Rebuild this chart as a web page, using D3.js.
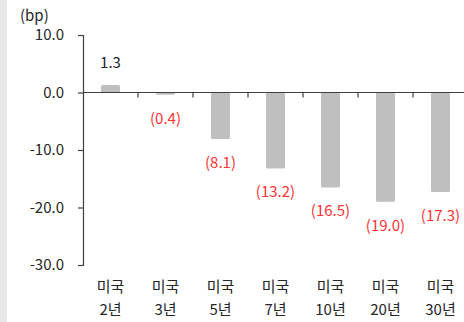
<!DOCTYPE html>
<html>
<head>
<meta charset="utf-8">
<script src="https://cdn.jsdelivr.net/npm/d3@7"></script>
<style>
  html, body { margin: 0; padding: 0; background: #fff; }
  svg { display: block; }
  text { font-family: "Noto Sans CJK KR", "Noto Sans", sans-serif; }
</style>
</head>
<body>
<svg id="chart" width="464" height="322"></svg>
<script>
// US Treasury yield change by maturity (bp)
const categories = ["미국\n2년", "미국\n3년", "미국\n5년", "미국\n7년", "미국\n10년", "미국\n20년", "미국\n30년"];
const values = [1.3, -0.4, -8.1, -13.2, -16.5, -19.0, -17.3];
const yTicks = [10, 0, -10, -20, -30];

const svg = d3.select("#chart");
const W = 464, H = 322;
const fs = 15;

// left-side grey strip
svg.append("rect").attr("x", 0).attr("y", 0).attr("width", 7).attr("height", H).attr("fill", "#e8e8e8");

const x0 = 83, bandW = 55;
const x = d3.scaleBand().domain(categories).range([x0, x0 + bandW * categories.length]).paddingInner(0).paddingOuter(0);
const y = d3.scaleLinear().domain([-30, 10]).range([265, 35]);

const axisColor = "#404040";
const textColor = "#262626";

// bars
const barW = 19;
svg.append("g").selectAll("rect").data(values).join("rect")
  .attr("x", (d, i) => x(categories[i]) + x.bandwidth() / 2 - barW / 2)
  .attr("y", d => Math.min(y(d), y(0)))
  .attr("width", barW)
  .attr("height", d => Math.abs(y(d) - y(0)))
  .attr("rx", 1.5)
  .attr("fill", "#bfbfbf");

// y axis
const yAxis = svg.append("g").attr("transform", `translate(${x0},0)`)
  .call(d3.axisLeft(y).tickValues(yTicks).tickFormat(d => d.toFixed(1)).tickSize(5).tickPadding(14));
yAxis.select(".domain").attr("stroke", axisColor).attr("stroke-width", 1.2);
yAxis.selectAll(".tick line").attr("stroke", axisColor).attr("stroke-width", 1.2);
yAxis.selectAll(".tick text").attr("fill", textColor).attr("font-size", fs)
  .attr("font-family", "'Noto Sans CJK KR', sans-serif");

// x axis at zero
const xAxisG = svg.append("g").attr("transform", `translate(0,${y(0)})`);
xAxisG.append("line").attr("x1", x0).attr("x2", W).attr("stroke", axisColor).attr("stroke-width", 1.2);
xAxisG.selectAll("line.tk").data(categories.slice(1)).join("line").attr("class", "tk")
  .attr("x1", d => x(d)).attr("x2", d => x(d)).attr("y1", 0).attr("y2", 5)
  .attr("stroke", axisColor).attr("stroke-width", 1.2);

// category labels
const catG = svg.append("g");
categories.forEach(c => {
  const lines = c.split("\n");
  const cx = x(c) + x.bandwidth() / 2;
  lines.forEach((ln, j) => {
    catG.append("text").attr("x", cx).attr("y", 292 + j * 23)
      .attr("text-anchor", "middle").attr("font-size", fs).attr("fill", textColor).text(ln);
  });
});

// value labels
const fmt = d => d < 0 ? `(${Math.abs(d).toFixed(1)})` : d.toFixed(1);
svg.append("g").selectAll("text").data(values).join("text")
  .attr("x", (d, i) => x(categories[i]) + x.bandwidth() / 2)
  .attr("y", d => d >= 0 ? y(d) - 17 : y(d) + 29)
  .attr("text-anchor", "middle").attr("font-size", fs)
  .attr("fill", d => d >= 0 ? textColor : "#ff3333")
  .text(fmt);

// unit label
svg.append("text").attr("x", 20).attr("y", 21).attr("font-size", fs).attr("fill", textColor).text("(bp)");
</script>
</body>
</html>
